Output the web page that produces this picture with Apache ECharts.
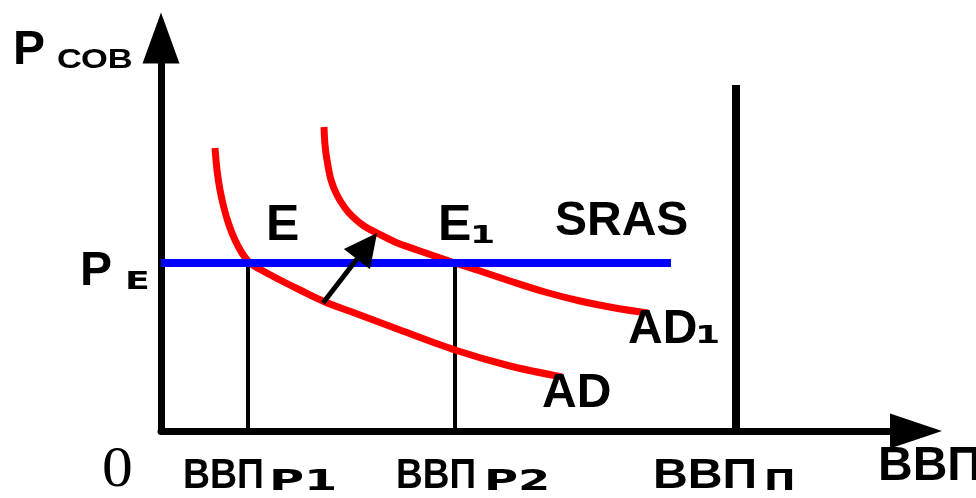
<!DOCTYPE html>
<html lang="ru">
<head>
  <meta charset="UTF-8">
  <title>AD / SRAS</title>
  <script src="https://cdn.jsdelivr.net/npm/echarts@6.0.0/dist/echarts.min.js"></script>
  <style>
    html, body { margin: 0; padding: 0; background: #fff; }
  </style>
</head>
<body>
  <div id="main" style="width: 976px;height:498px;"></div>

  <script type="text/javascript">
  // data units: x = real output, y = price level (origin at the axes corner)
  var adCurve = [[54,283],[56,261],[59,241],[63,223],[68,206],[74,191],[81,178],[89,168],
                 [104,159],[119,151],[139,141],[164,129],[199,116],[239,101],[294,81],[349,65],[401,54]];
  var ad1Curve = [[163,304],[164,286],[166,271],[170,251],[176,236],[184,223],[192,214],[203,205],
                  [216,198],[234,189],[256,181],[291,169],[319,160],[352,149],[384,139],[419,130],[454,123],[487,118]];
  var priceE = 168;
  var srasX = [0, 510];
  var gdpP1 = 87, gdpP2 = 294, gdpPot = 575, potTop = 346;
  // shaft start on AD, end = middle of the arrow head toward AD1
  var shiftArrow = [[162,128],[206,185]];

  var bold = 'bold 48px "Liberation Sans", Arial, sans-serif';
  var big = 'bold 50px "Liberation Sans", Arial, sans-serif';
  var cyr = 'bold 43px "Liberation Sans", Arial, sans-serif';
  var sub = 'bold 25px "DejaVu Sans", Verdana, sans-serif';
  var sub2 = 'bold 29px "DejaVu Sans", Verdana, sans-serif';

  function txt(s, x, y, font, sx) {
    return { type: 'text', x: x, y: y, z: 100, scaleX: sx || 1,
      style: { text: s, font: font, fill: '#000', textVerticalAlign: 'middle', verticalAlign: 'middle' } };
  }

  var myChart = echarts.init(document.getElementById('main'));
  var option = {
    animation: false,
    grid: { left: 161, top: 63, width: 729, height: 368 },
    xAxis: {
      type: 'value', min: 0, max: 729,
      axisLine: { show: true, symbol: ['none', 'triangle'], symbolSize: [35, 52], symbolOffset: [0, 26],
        lineStyle: { color: '#000', width: 7 } },
      axisTick: { show: false }, axisLabel: { show: false }, splitLine: { show: false }
    },
    yAxis: {
      type: 'value', min: 0, max: 368,
      axisLine: { show: true, symbol: ['none', 'triangle'], symbolSize: [37, 51], symbolOffset: [0, 25],
        lineStyle: { color: '#000', width: 7 } },
      axisTick: { show: false }, axisLabel: { show: false }, splitLine: { show: false }
    },
    series: [
      { type: 'line', data: [[gdpP1, 0], [gdpP1, priceE]], symbol: 'none', z: 2,
        lineStyle: { color: '#000', width: 4 } },
      { type: 'line', data: [[gdpP2, 0], [gdpP2, priceE]], symbol: 'none', z: 2,
        lineStyle: { color: '#000', width: 4 } },
      { type: 'line', data: [[gdpPot, 0], [gdpPot, potTop]], symbol: 'none', z: 2,
        lineStyle: { color: '#000', width: 8 } },
      { type: 'line', name: 'AD', data: adCurve, smooth: 0.3, symbol: 'none', z: 3,
        lineStyle: { color: '#ff0000', width: 7 } },
      { type: 'line', name: 'AD1', data: ad1Curve, smooth: 0.3, symbol: 'none', z: 3,
        lineStyle: { color: '#ff0000', width: 7 } },
      { type: 'line', name: 'SRAS', data: [[srasX[0], priceE], [srasX[1], priceE]], symbol: 'none', z: 4,
        lineStyle: { color: '#0000ff', width: 8 } },
      { type: 'lines', coordinateSystem: 'cartesian2d', z: 5,
        symbol: ['none', 'triangle'], symbolSize: [24, 33],
        lineStyle: { color: '#000', width: 5, opacity: 1 },
        data: [{ coords: shiftArrow }] }
    ],
    graphic: [
      txt('P', 13, 51, bold),
      txt('СОВ', 57, 60, 'bold 28px "Liberation Sans", Arial, sans-serif', 1.23),
      txt('P', 80, 272, bold),
      txt('E', 125, 282, sub, 1.45),
      txt('E', 266, 226, big),
      txt('E', 438, 226, big),
      txt('1', 470, 236, sub, 1.45),
      txt('SRAS', 555, 222, bold),
      txt('AD', 628, 330, bold),
      txt('1', 695, 336, sub, 1.45),
      txt('AD', 542, 394, bold),
      txt('0', 102, 471, '56px "Liberation Serif", "Times New Roman", serif', 1.1),
      txt('ВВП', 183, 476, cyr, 0.87),
      txt('Р1', 269, 482, sub2, 1.65),
      txt('ВВП', 396, 476, cyr, 0.86),
      txt('Р2', 484, 482, sub2, 1.6),
      txt('ВВП', 653, 476, cyr, 1.12),
      txt('П', 764, 482, sub2, 1.3),
      txt('ВВП', 878, 467, bold)
    ]
  };
  myChart.setOption(option);
  </script>
</body>
</html>
